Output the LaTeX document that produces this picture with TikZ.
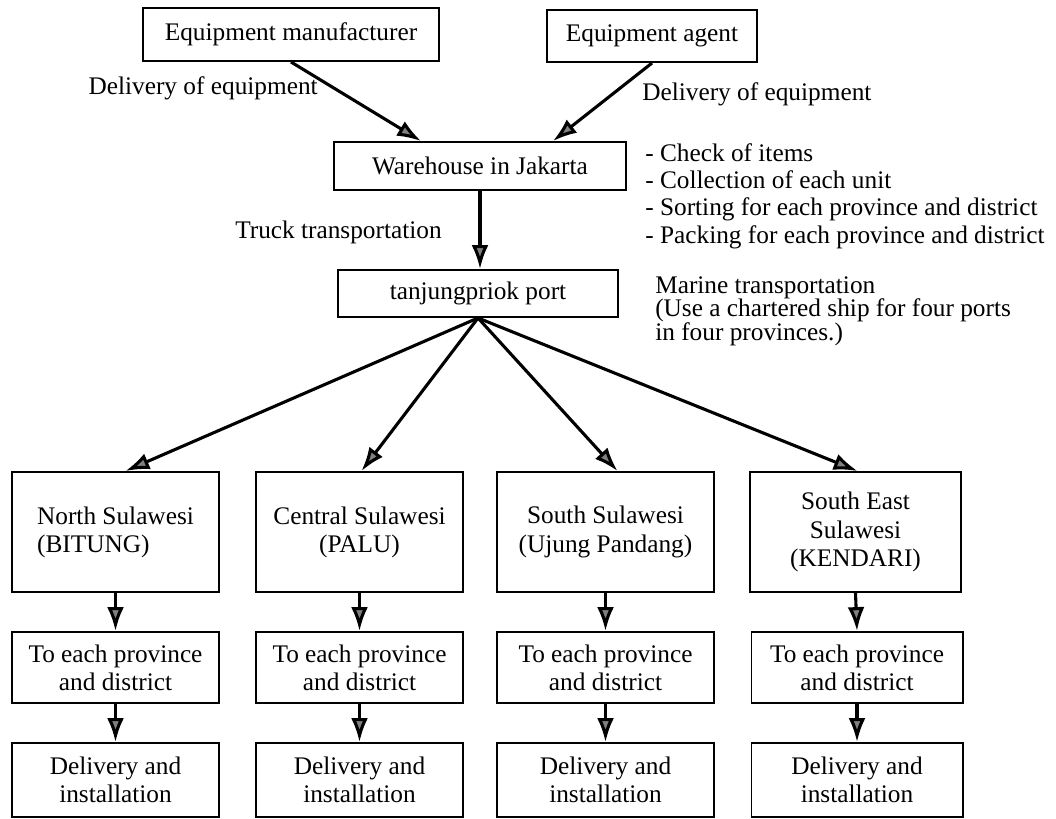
\documentclass[tikz,border=0pt]{standalone}
\usepackage{fontspec}
\setmainfont{Liberation Serif}
\usetikzlibrary{arrows.meta}

\begin{document}
\begin{tikzpicture} [x = 0.025cm, y = -0.025cm,
  font = \fontsize{18}{20}\selectfont,
  box/.style 2 args = {draw, line width = 1.4pt, align = center, inner sep = 2pt,
    minimum width = #1, minimum height = #2},
  arr/.style = {line width = 2.2pt, -{Latex[length = 17pt, width = 12pt, fill = gray]}},
  note/.style = {align = left, inner sep = 0pt}]
\useasboundingbox (0, 0) rectangle (1056, 819);
% suppliers, warehouse and port
\node[box = {7.4cm}{1.325cm}] (mfr) at (291.0, 34.5){Equipment manufacturer};
\node[box = {5.25cm}{1.3cm}] (agent) at (652.0, 36.0){Equipment agent};
\node[box = {7.3cm}{1.2cm}] (wh) at (480.0, 166.0){Warehouse in Jakarta};
\node[box = {7.0cm}{1.175cm}] (port) at (478.0, 293.5){tanjungpriok port};
% texts beside the arrows
\node[note, anchor = east] (delL) at (318.0, 88.0){Delivery of equipment};
\node[note, anchor = west] (delR) at (642.0, 94.0){Delivery of equipment};
\node[note, anchor = east] (truck) at (442.0, 232.0){Truck transportation};
\node[note, anchor = north west, font = \fontsize{18}{19.5}\selectfont] (work) at (645.0, 143.0)
  {- Check of items\\- Collection of each unit\\- Sorting for each province and district\\- Packing for each province and district};
\node[note, anchor = north west, font = \fontsize{18}{17}\selectfont] (marine) at (655.0, 276.0)
  {Marine transportation\\(Use a chartered ship for four ports\\in four provinces.)};
% provinces
\node[box = {5.15cm}{3cm}, align = left] (north) at (115.5, 532.0){North Sulawesi\\(BITUNG)};
\node[box = {5.15cm}{3cm}] (central) at (359.5, 532.0){Central Sulawesi\\(PALU)};
\node[box = {5.425cm}{3cm}] (south) at (605.5, 532.0){South Sulawesi\\(Ujung Pandang)};
\node[box = {5.275cm}{3cm}] (seast) at (855.5, 532.0){South East\\Sulawesi\\(KENDARI)};
% second row
\node[box = {5.15cm}{1.775cm}] (northd) at (115.5, 667.5){To each province\\and district};
\node[box = {5.15cm}{1.775cm}] (centrald) at (359.5, 667.5){To each province\\and district};
\node[box = {5.425cm}{1.775cm}] (southd) at (605.5, 667.5){To each province\\and district};
\node[box = {5.275cm}{1.775cm}] (seastd) at (857.0, 667.5){To each province\\and district};
% third row
\node[box = {5.15cm}{1.85cm}] (northi) at (115.5, 780.0){Delivery and\\installation};
\node[box = {5.15cm}{1.85cm}] (centrali) at (359.5, 780.0){Delivery and\\installation};
\node[box = {5.425cm}{1.85cm}] (southi) at (605.5, 780.0){Delivery and\\installation};
\node[box = {5.275cm}{1.85cm}] (seasti) at (857.0, 780.0){Delivery and\\installation};
% arrows
\draw[arr] (mfr.south) -- ([xshift = -1.475cm]wh.north);
\draw[arr] (agent.south) -- ([xshift = 1.825cm]wh.north);
\draw[arr] (wh.south) -- (wh.south |- port.north);
\draw[arr] (port.south) -- ([xshift = 0.25cm]north.north);
\draw[arr] (port.south) -- ([xshift = 0.05cm]central.north);
\draw[arr] (port.south) -- ([xshift = 0.3cm]south.north);
\draw[arr] (port.south) -- ([xshift = 0.05cm]seast.north);
\foreach \p in {north, central, south, seast}{
  \draw[arr] (\p.south) -- (\p d.north);
  \draw[arr] (\p d.south) -- (\p i.north);
}
\end{tikzpicture}
\end{document}
